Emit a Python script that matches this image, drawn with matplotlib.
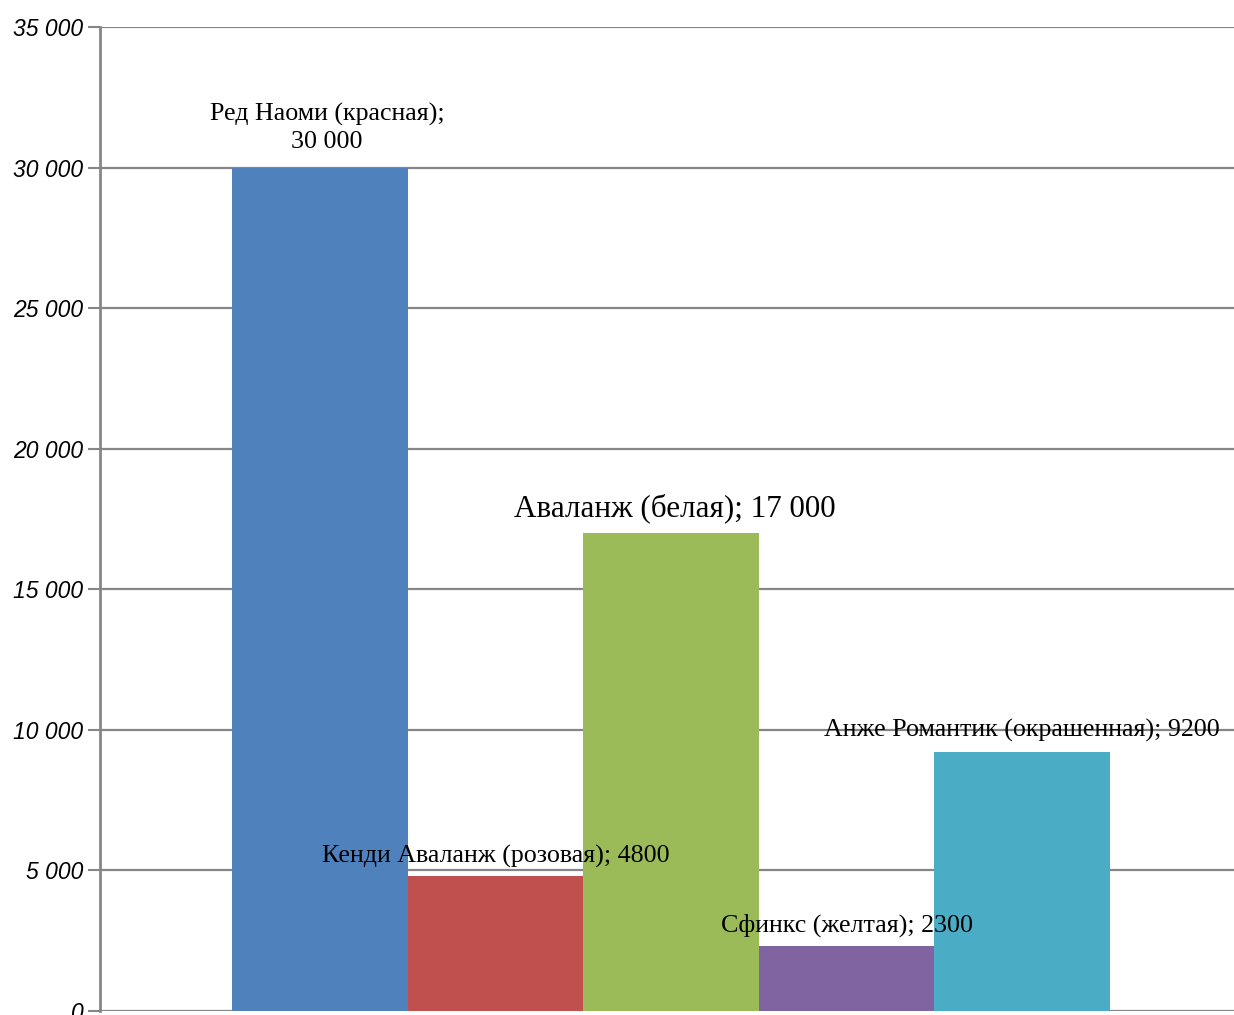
import matplotlib.pyplot as plt
from matplotlib.ticker import FuncFormatter

names = ["Ред Наоми (красная);\n30 000", "Кенди Аваланж (розовая); 4800",
         "Аваланж (белая); 17 000", "Сфинкс (желтая); 2300",
         "Анже Романтик (окрашенная); 9200"]
values = [30000, 4800, 17000, 2300, 9200]
colors = ["#4F81BD", "#C0504D", "#9BBB59", "#8064A2", "#4BACC6"]
yticks = [0, 5000, 10000, 15000, 20000, 25000, 30000, 35000]

fig = plt.figure(figsize=(12.34, 10.15), dpi=100)
ax = fig.add_axes([0.081, 0.0044, 0.919, 0.969])

x = list(range(len(values)))
ax.bar(x, values, width=1.0, color=colors, zorder=3)

ax.set_xlim(-1.252, 5.206)
ax.set_ylim(0, 35000)
ax.set_yticks(yticks)
ax.yaxis.set_major_formatter(FuncFormatter(lambda v, p: f"{int(v):,}".replace(",", " ")))
ax.tick_params(axis="y", length=9, width=1.5, color="#868686", pad=3)
for t in ax.get_yticklabels():
    t.set_fontfamily("Liberation Sans")
    t.set_fontstyle("italic")
    t.set_fontsize(16.5)
ax.set_xticks([])
ax.grid(axis="y", color="#868686", linewidth=1.6, zorder=0)
for s in ["top", "right", "bottom"]:
    ax.spines[s].set_visible(False)
ax.spines["left"].set_color("#868686")
ax.spines["left"].set_linewidth(2)

# label offsets (data units) and sizes
dx = [0.04, 0.0, 0.02, 0.0, 0.0]
dy = [1420, 700, 880, 740, 780]
sizes = [18.7, 18.7, 22.4, 18.7, 18.7]
for i, (n, v) in enumerate(zip(names, values)):
    ax.text(i + dx[i], v + dy[i], n, ha="center", va="center", family="Liberation Serif",
            fontsize=sizes[i], linespacing=1.3, zorder=4)

fig.savefig("out.png", dpi=100)
